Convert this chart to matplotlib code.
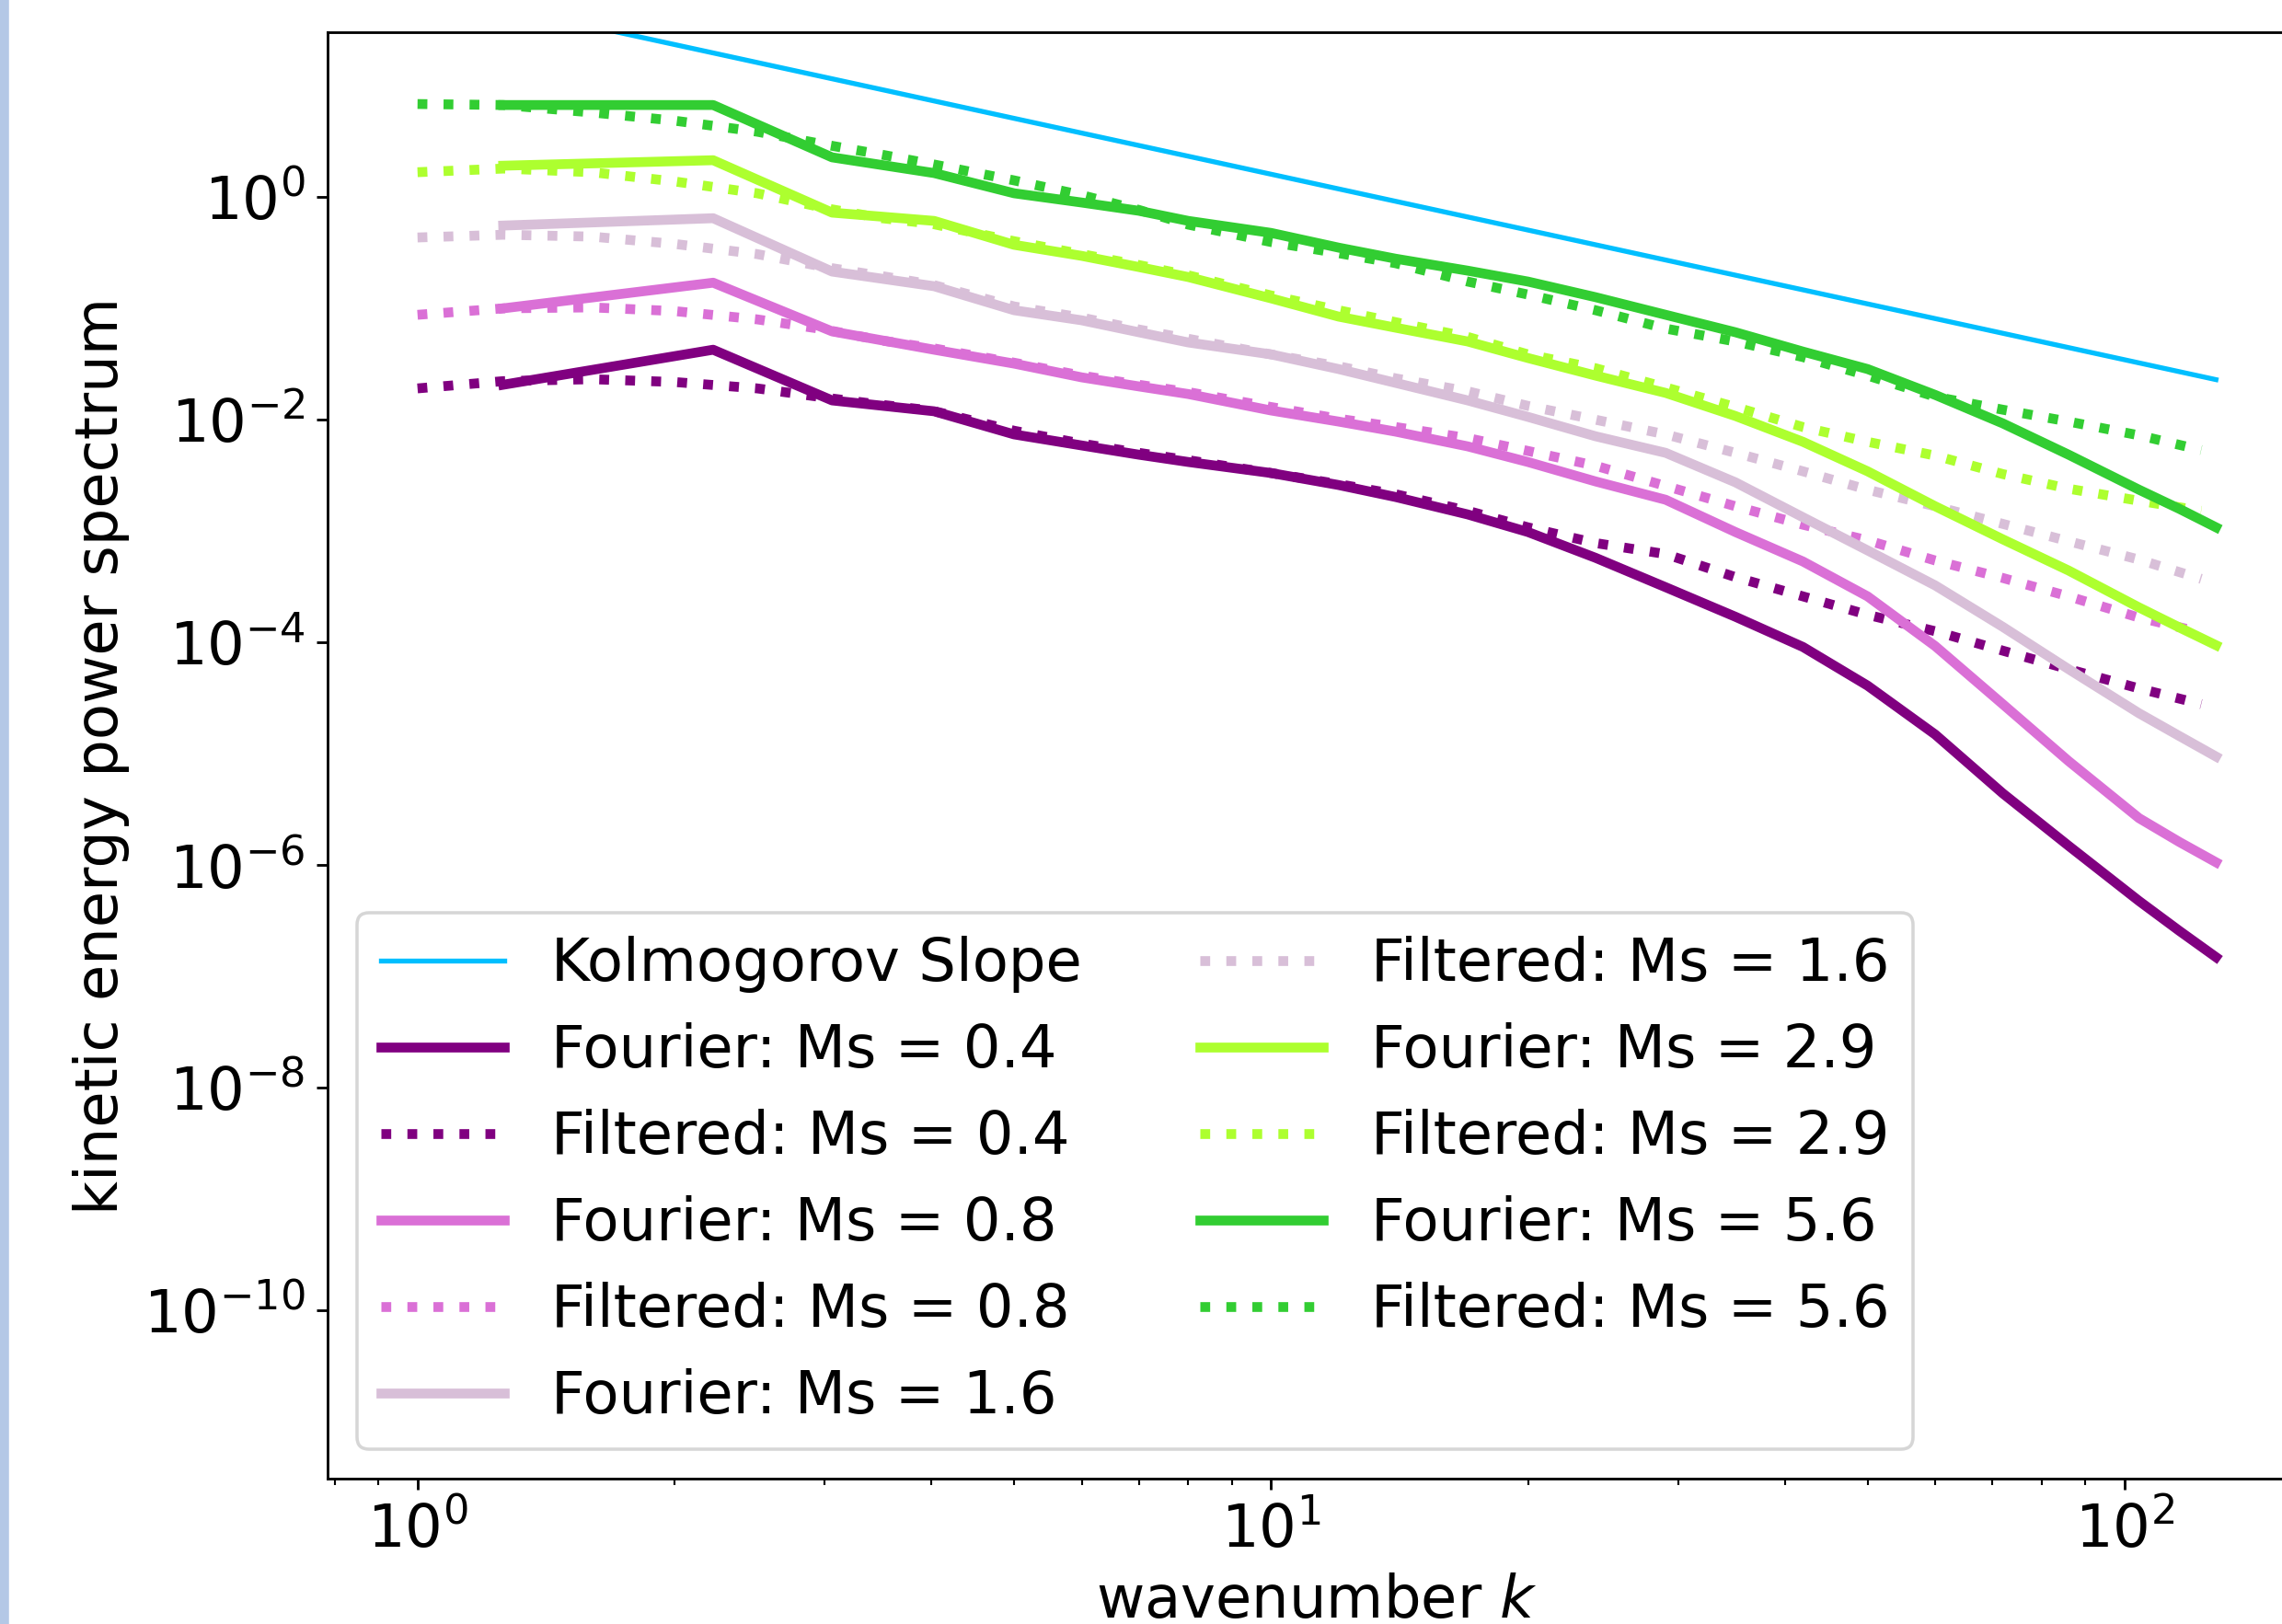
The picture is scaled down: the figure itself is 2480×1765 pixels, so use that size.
import matplotlib
matplotlib.use('Agg')
import matplotlib.pyplot as plt
from matplotlib.patches import Rectangle
from matplotlib.ticker import NullLocator

# wavenumbers of the shell-averaged Fourier spectra and of the filtered spectra
k_fourier = [1.26, 2.22, 3.06, 4.03, 5, 6, 7, 8, 10, 12, 14, 17, 20, 24, 29, 35,
             42, 50, 60, 72, 86, 104, 116, 128]
k_filtered = [1, 1.26, 1.6, 2, 2.5, 3, 3.5, 4, 5, 6, 7, 8, 10, 12, 14, 17, 20, 24,
              29, 35, 42, 50, 60, 72, 86, 104, 123]

# Kolmogorov -5/3 reference line (end points)
k_kolmo = [1, 128]
E_kolmo = [74.3, 0.0229]

mach = ['0.4', '0.8', '1.6', '2.9', '5.6']
colors = ['purple', 'orchid', 'thistle', 'greenyellow', 'limegreen']

fourier_04 = [0.0206, 0.0425, 0.0149, 0.0119, 0.00738, 0.00587, 0.00485, 0.00417,
              0.00332, 0.00259, 0.00202, 0.00141, 0.00098, 0.000575, 0.000313,
              0.000170, 9.10e-5, 4.09e-5, 1.49e-5, 4.41e-6, 1.49e-6, 4.76e-7,
              2.56e-7, 1.49e-7]
filtered_04 = [0.0191, 0.0222, 0.0231, 0.0218, 0.0191, 0.0158, 0.0136, 0.0121,
               0.00796, 0.0061, 0.00504, 0.00433, 0.00332, 0.00264, 0.00214, 0.00152,
               0.00108, 0.00078, 0.000621, 0.000386, 0.000259, 0.000177, 0.000126,
               8.43e-5, 5.75e-5, 3.86e-5, 2.79e-5]

fourier_08 = [0.100, 0.170, 0.0621, 0.0425, 0.0319, 0.0240, 0.0199, 0.0170, 0.0121,
              0.00962, 0.00781, 0.00576, 0.00417, 0.00279, 0.00191, 0.00098,
              0.000533, 0.000259, 9.27e-5, 2.79e-5, 8.59e-6, 2.64e-6, 1.61e-6, 1.06e-6]
filtered_08 = [0.0875, 0.100, 0.102, 0.0945, 0.0796, 0.0646, 0.0514, 0.0441, 0.0325,
               0.0249, 0.0206, 0.0177, 0.0130, 0.0102, 0.00859, 0.00684, 0.00524,
               0.00386, 0.00254, 0.00167, 0.00114, 0.000826, 0.000544, 0.000379,
               0.000259, 0.000167, 0.000123]

fourier_16 = [0.554, 0.645, 0.214, 0.158, 0.0962, 0.0781, 0.0610, 0.0494, 0.0386,
              0.0285, 0.0214, 0.0149, 0.0106, 0.00710, 0.00504, 0.00274, 0.00133,
              0.00067, 0.000325, 0.000138, 5.75e-5, 2.31e-5, 1.44e-5, 9.44e-6]
filtered_16 = [0.433, 0.458, 0.441, 0.379, 0.307, 0.235, 0.195, 0.164, 0.104, 0.0826,
               0.0646, 0.0533, 0.0386, 0.0302, 0.0235, 0.0180, 0.0133, 0.0100,
               0.00738, 0.00504, 0.00344, 0.00235, 0.00167, 0.00116, 0.00081,
               0.000554, 0.000372]

fourier_29 = [1.91, 2.14, 0.724, 0.610, 0.372, 0.296, 0.235, 0.191, 0.123, 0.0843,
              0.0670, 0.0504, 0.0358, 0.0249, 0.0174, 0.0108, 0.00633, 0.00344,
              0.00167, 0.000843, 0.000442, 0.000206, 0.000136, 9.44e-5]
filtered_29 = [1.67, 1.80, 1.67, 1.38, 1.08, 0.796, 0.645, 0.576, 0.401, 0.307, 0.245,
               0.198, 0.1306, 0.0962, 0.0751, 0.0554, 0.0386, 0.0290, 0.0195, 0.0130,
               0.00859, 0.00633, 0.00476, 0.00325, 0.00240, 0.00187, 0.00152]

fourier_56 = [6.70, 6.70, 2.27, 1.64, 1.08, 0.892, 0.752, 0.610, 0.476, 0.351, 0.279,
              0.218, 0.174, 0.126, 0.0875, 0.0610, 0.0409, 0.0285, 0.0167, 0.00927,
              0.00485, 0.00235, 0.00158, 0.00108]
filtered_56 = [6.84, 6.70, 5.75, 4.85, 3.86, 2.96, 2.40, 1.98, 1.41, 1.04, 0.766, 0.565,
               0.394, 0.313, 0.254, 0.174, 0.133, 0.0962, 0.0658, 0.0504, 0.0365,
               0.0249, 0.0161, 0.0123, 0.00962, 0.00724, 0.00534]

fourier = [fourier_04, fourier_08, fourier_16, fourier_29, fourier_56]
filtered = [filtered_04, filtered_08, filtered_16, filtered_29, filtered_56]

fig = plt.figure(figsize=(2480 / 256, 1765 / 256), dpi=256)
ax = fig.add_axes([0.14355, 0.08952, 0.86694, 0.89065])

# thin coloured strip on the left edge of the screenshot
fig.patches.append(Rectangle((0, 0), 8 / 2480, 1, transform=fig.transFigure,
                             color='#b4c8e6', zorder=0))

ax.plot(k_kolmo, E_kolmo, color='deepskyblue', lw=1.5, label='Kolmogorov Slope')
for ms, c, ef, efil in zip(mach, colors, fourier, filtered):
    ax.plot(k_fourier, ef, color=c, lw=3, label='Fourier: Ms = ' + ms)
    ax.plot(k_filtered, efil, color=c, lw=3, ls=':', label='Filtered: Ms = ' + ms)

ax.set_xscale('log')
ax.set_yscale('log')
ax.set_xlim(10 ** -0.1054, 10 ** 2.2126)
ax.set_ylim(10 ** -11.51, 10 ** 1.48)
ax.set_yticks([1e-10, 1e-8, 1e-6, 1e-4, 1e-2, 1e0])
ax.yaxis.set_minor_locator(NullLocator())
ax.tick_params(labelsize=18)

# the reference image is cropped, so the x label runs off the bottom edge
ax.set_xlabel('wavenumber $k$', fontsize=18)
ax.set_ylabel('kinetic energy power spectrum', fontsize=18)

ax.legend(loc='lower left', ncol=2, fontsize=18, handlelength=2.1)

fig.savefig('out.png', dpi=256)
